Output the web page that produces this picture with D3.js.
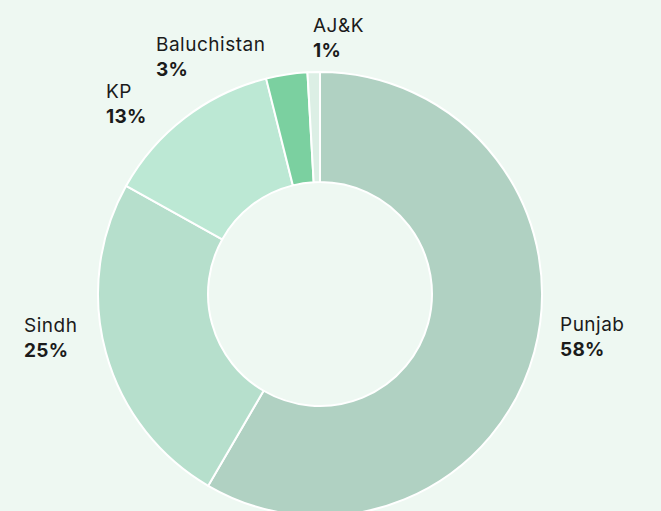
<!DOCTYPE html>
<html>
<head>
<meta charset="utf-8">
<script src="https://cdn.jsdelivr.net/npm/d3@7"></script>
<style>
  html, body { margin: 0; padding: 0; background: #eef8f2; }
  svg { display: block; }
  text { font-family: Inter, "Noto Sans", sans-serif; fill: #1b1b1b; }
</style>
</head>
<body>
<div id="chart"></div>
<script>
// Data
const categories = ["Punjab", "Sindh", "KP", "Baluchistan", "AJ&K"];
const values = [58.4, 24.7, 13.0, 3.0, 0.9];
const percentLabels = ["58%", "25%", "13%", "3%", "1%"];
const colors = ["#b0d1c2", "#b6dfcc", "#bce8d4", "#7bd0a0", "#dcefe5"];

// Layout (label anchor: left x, first baseline)
const labelLayout = {
  "Punjab": [560, 331],
  "Sindh": [24, 332],
  "KP": [106, 98],
  "Baluchistan": [156, 51],
  "AJ&K": [313, 32]
};

const W = 661, H = 511;
const cx = 320, cy = 294, R = 222, r = 112;

const svg = d3.select("#chart").append("svg").attr("width", W).attr("height", H);
svg.append("rect").attr("width", W).attr("height", H).attr("fill", "#eef8f2");

const data = categories.map((c, i) => ({ name: c, value: values[i], pct: percentLabels[i], color: colors[i] }));

const pie = d3.pie().value(d => d.value).sort(null);
const arc = d3.arc().innerRadius(r).outerRadius(R);

const g = svg.append("g").attr("transform", `translate(${cx},${cy})`);
g.selectAll("path").data(pie(data)).join("path")
  .attr("d", arc)
  .attr("fill", d => d.data.color)
  .attr("stroke", "#ffffff")
  .attr("stroke-width", 2)
  .attr("stroke-linejoin", "round");

const labels = svg.selectAll("g.lbl").data(data).join("g").attr("class", "lbl");
labels.append("text")
  .attr("x", d => labelLayout[d.name][0])
  .attr("y", d => labelLayout[d.name][1])
  .attr("font-size", 19)
  .attr("font-weight", 400)
  .attr("letter-spacing", 0.5)
  .text(d => d.name);
labels.append("text")
  .attr("x", d => labelLayout[d.name][0])
  .attr("y", d => labelLayout[d.name][1] + 25)
  .attr("font-size", 19)
  .attr("font-weight", 700)
  .attr("letter-spacing", 0.3)
  .text(d => d.pct);
</script>
</body>
</html>
